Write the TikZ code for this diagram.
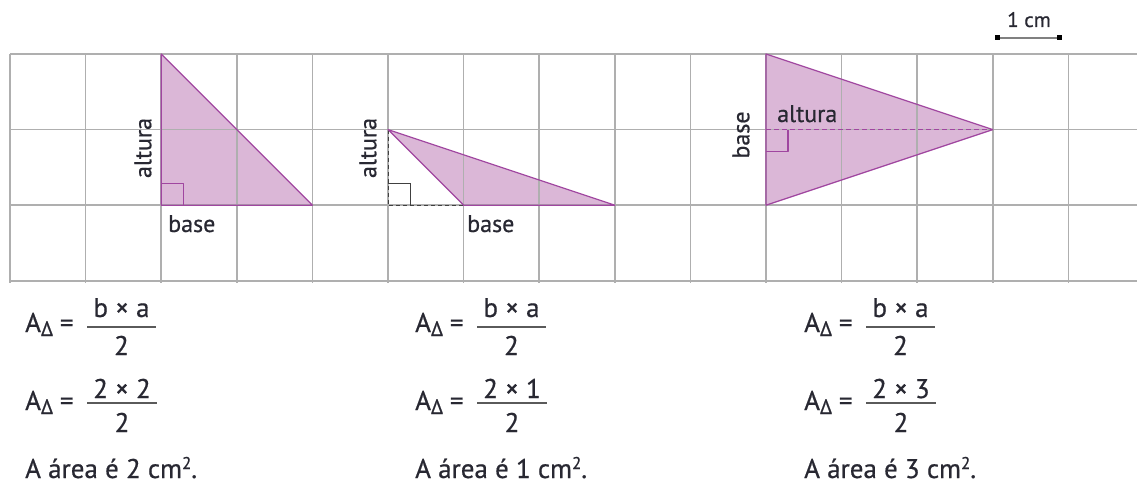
\documentclass[tikz,border=0pt]{standalone}
\usepackage{fontspec}
\setmainfont{PT Sans}
\newfontfamily\medfont{PT Sans}[FakeBold=0.6]
\usetikzlibrary{calc}
\definecolor{gridgray}{RGB}{175,175,175}
\definecolor{trifill}{RGB}{165,75,155}
\definecolor{tristroke}{RGB}{160,70,160}
\definecolor{txt}{RGB}{40,40,50}
\definecolor{barcol}{RGB}{90,90,90}
\tikzset{
  gridline/.style={draw=gridgray, line width=1.6pt},
  trishape/.style={fill=trifill, fill opacity=0.4, draw=none},
  triedge/.style={draw=tristroke, line width=1.2pt, line join=round},
  helpdash/.style={draw=black!75, line width=1pt, dash pattern=on 4pt off 3pt},
  purpledash/.style={draw=tristroke, line width=1.1pt, dash pattern=on 5pt off 3pt},
  lbl/.style={inner sep=0pt, text=txt, font=\medfont\fontsize{24}{25}\selectfont},
  ftxt/.style={inner sep=0pt, text=txt, font=\medfont\fontsize{27}{28}\selectfont},
  fbar/.style={draw=barcol, line width=1.7pt},
  scalebar/.style={draw=gray, line width=1.6pt},
  endsq/.style={fill=black, draw=none, minimum size=5pt, inner sep=0pt}
}
\newcommand{\areasym}{A\raisebox{-4pt}{\fontsize{21}{21}\selectfont Δ}\hspace{7pt}=}
\begin{document}
\begin{tikzpicture}[x=1pt,y=-1pt]
\useasboundingbox (0,0) rectangle (1137,484);
% triangle fills (under grid)
\coordinate (A1) at (161.2,54);
\coordinate (B1) at (161.2,205.2);
\coordinate (C1) at (312.4,205.2);
\coordinate (A2) at (388,129.6);
\coordinate (D2) at (388,205.2);
\coordinate (B2) at (463.6,205.2);
\coordinate (C2) at (614.8,205.2);
\coordinate (A3) at (766,54);
\coordinate (B3) at (766,205.2);
\coordinate (C3) at (992.8,129.6);
\coordinate (D3) at (766,129.6);
\fill[trishape] (A1) -- (B1) -- (C1) -- cycle;
\fill[trishape] (A2) -- (B2) -- (C2) -- cycle;
\fill[trishape] (A3) -- (B3) -- (C3) -- cycle;
% grid
\foreach \i in {0,...,14} {
  \draw[gridline] ({10+75.6*\i},54) -- ({10+75.6*\i},283);
}
\foreach \j in {0,...,3} {
  \draw[gridline] (10,{54+75.6*\j}) -- (1137,{54+75.6*\j});
}
% triangle 1
\draw[triedge] (A1) -- (B1) -- (C1) -- cycle;
\draw[triedge] ($(B1)+(0,-22)$) -- ++(22,0) -- ++(0,22);
\node[lbl, rotate=90] (alt1) at (143,148) {altura};
\node[lbl, anchor=base west] (bas1) at (168,232) {base};
% triangle 2
\draw[helpdash] (A2) -- (D2) -- (B2);
\draw[draw=black!75, line width=1pt] ($(D2)+(0,-22)$) -- ++(22,0) -- ++(0,22);
\draw[triedge] (A2) -- (B2) -- (C2) -- cycle;
\node[lbl, rotate=90] (alt2) at (368,148) {altura};
\node[lbl, anchor=base west] (bas2) at (467,232) {base};
% triangle 3
\draw[purpledash] (D3) -- (C3);
\draw[triedge] (A3) -- (B3) -- (C3) -- cycle;
\draw[triedge] ($(D3)+(0,22)$) -- ++(22,0) -- ++(0,-22);
\node[lbl, rotate=90] (bas3) at (741,135) {base};
\node[lbl, anchor=base west] (alt3) at (777,122) {altura};
% scale bar
\coordinate (s1) at (997,38);
\coordinate (s2) at (1059,38);
\draw[scalebar] (s1) -- (s2);
\node[endsq] (sq1) at (s1) {};
\node[endsq] (sq2) at (s2) {};
\node[lbl, font=\medfont\fontsize{21}{22}\selectfont, anchor=base] (cm) at (1029,27) {1 cm};
% formulas
\foreach \c/\ox/\n in {1/0/2, 2/390/1, 3/779/3} {
  \node[ftxt, anchor=base west] (fa\c) at ({25+\ox},332) {\areasym};
  \coordinate (bl\c) at ({87+\ox},327);
  \coordinate (br\c) at ({156+\ox},327);
  \draw[fbar] (bl\c) -- (br\c);
  \node[ftxt, anchor=base] (fn\c) at ({121.5+\ox},317) {b × a};
  \node[ftxt, anchor=base] (fd\c) at ({121.5+\ox},355) {2};
  \node[ftxt, anchor=base west] (ga\c) at ({25+\ox},410) {\areasym};
  \coordinate (cl\c) at ({87+\ox},403);
  \coordinate (cr\c) at ({157+\ox},403);
  \draw[fbar] (cl\c) -- (cr\c);
  \node[ftxt, anchor=base] (gn\c) at ({122+\ox},398) {2 × \n};
  \node[ftxt, anchor=base] (gd\c) at ({122+\ox},432) {2};
  \node[ftxt, anchor=base west] (ar\c) at ({25+\ox},478)
    {A área é \n\ cm\raisebox{9pt}{\fontsize{17}{17}\selectfont 2}.};
}
\end{tikzpicture}
\end{document}
